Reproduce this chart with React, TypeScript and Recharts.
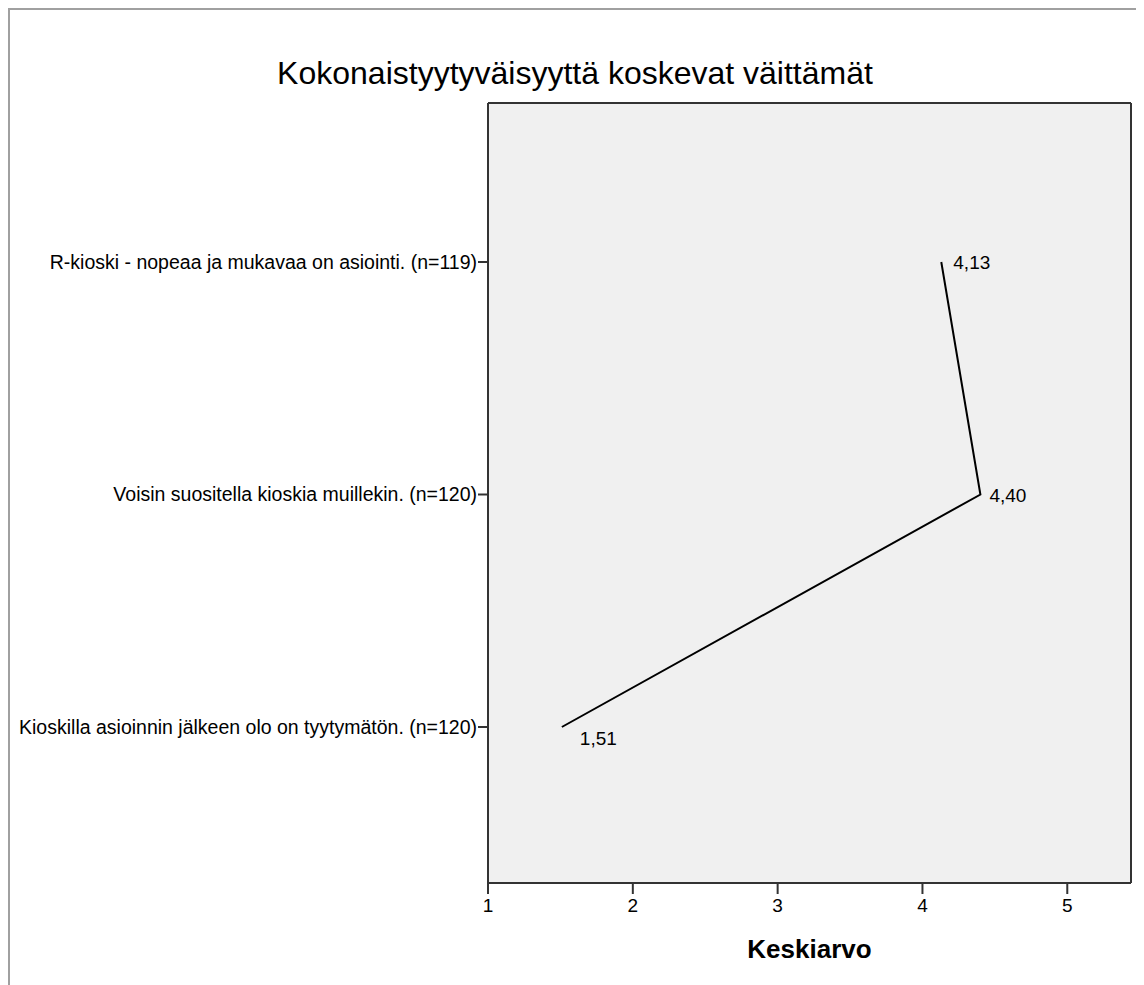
import React from "react";
import {
  LineChart,
  Line,
  XAxis,
  YAxis,
  CartesianGrid,
  LabelList,
} from "recharts";

// Väittämät (ylhäältä alas) ja niiden keskiarvot
const categories = [
  "R-kioski - nopeaa ja mukavaa on asiointi. (n=119)",
  "Voisin suositella kioskia muillekin. (n=120)",
  "Kioskilla asioinnin jälkeen olo on tyytymätön. (n=120)",
];
const means = [4.13, 4.4, 1.51];
const xTicks = [1, 2, 3, 4, 5];

const FONT = "'Liberation Sans', Arial, sans-serif";

const data = categories.map((name, i) => ({ name, mean: means[i] }));

const fmt = (v: number) => v.toFixed(2).replace(".", ",");

// SPSS-tyylinen arvotunniste: oikealle, viimeinen oikealle alas
function renderValue(props: any) {
  const { x, y, value, index } = props;
  const last = index === means.length - 1;
  return (
    <text
      x={x + (last ? 18 : index === 0 ? 12 : 9)}
      y={y + (last ? 18 : 7)}
      fontSize={19}
      fontFamily={FONT}
      fill="#000"
    >
      {fmt(value)}
    </text>
  );
}

// kehys piirtoalueen reunoille
const edgesH = ({ offset }: any) => [offset.top, offset.top + offset.height];
const edgesV = ({ offset }: any) => [offset.left, offset.left + offset.width];

export default function App() {
  return (
    <div
      style={{
        position: "relative",
        width: 1130,
        height: 980,
        border: "2px solid #a0a0a0",
        background: "#fff",
        fontFamily: FONT,
      }}
    >
      <div
        style={{
          position: "absolute",
          top: 47,
          left: 0,
          width: 1130,
          textAlign: "center",
          fontSize: 32,
          lineHeight: "32px",
          color: "#000",
        }}
      >
        Kokonaistyytyväisyyttä koskevat väittämät
      </div>
      <LineChart
        layout="vertical"
        width={1130}
        height={980}
        data={data}
        margin={{ top: 93, right: 9, bottom: 0, left: 0 }}
      >
        <CartesianGrid
          fill="#f0f0f0"
          fillOpacity={1}
          stroke="#333"
          strokeWidth={2}
          horizontalCoordinatesGenerator={edgesH}
          verticalCoordinatesGenerator={edgesV}
        />
        <XAxis
          type="number"
          domain={[1, 5.44]}
          ticks={xTicks}
          allowDataOverflow
          height={107}
          axisLine={{ stroke: "#333", strokeWidth: 2 }}
          tickLine={{ stroke: "#333", strokeWidth: 2 }}
          tickSize={11}
          tickMargin={5}
          tick={{ fill: "#000", fontSize: 19, fontFamily: FONT }}
          label={{
            value: "Keskiarvo",
            position: "insideBottom",
            offset: 32,
            fill: "#000",
            fontSize: 26,
            fontWeight: "bold",
            fontFamily: FONT,
          }}
        />
        <YAxis
          type="category"
          dataKey="name"
          scale="point"
          width={478}
          padding={{ top: 159, bottom: 156 }}
          axisLine={{ stroke: "#333", strokeWidth: 2 }}
          tickLine={{ stroke: "#333", strokeWidth: 2 }}
          tickSize={10}
          tickMargin={1}
          interval={0}
          tick={{ fill: "#000", fontSize: 19.5, fontFamily: FONT }}
        />
        <Line
          type="linear"
          dataKey="mean"
          stroke="#000"
          strokeWidth={2}
          dot={false}
          isAnimationActive={false}
        >
          <LabelList dataKey="mean" content={renderValue} />
        </Line>
      </LineChart>
    </div>
  );
}
